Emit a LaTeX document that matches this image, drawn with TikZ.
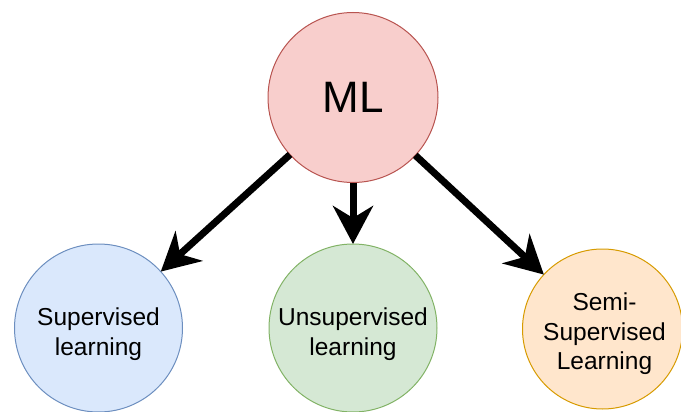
\documentclass[tikz,border=0pt]{standalone}
\usepackage{fontspec}
\setmainfont{Liberation Sans}
\usetikzlibrary{arrows.meta}

\definecolor{redfill}{HTML}{F8CECC}
\definecolor{redline}{HTML}{B85450}
\definecolor{bluefill}{HTML}{DAE8FC}
\definecolor{blueline}{HTML}{6C8EBF}
\definecolor{greenfill}{HTML}{D5E8D4}
\definecolor{greenline}{HTML}{82B366}
\definecolor{orangefill}{HTML}{FFE6CC}
\definecolor{orangeline}{HTML}{D79B00}

\tikzset{
  bubble/.style={circle, inner sep=0pt, outer sep=0pt, line width=1pt},
  caption/.style={inner sep=0pt, align=center,
    font=\fontsize{24.5}{29.5}\selectfont},
  link/.style={line width=7pt,
    -{Stealth[length=38pt, width=40pt, inset=12pt]}},
}

\begin{document}
\begin{tikzpicture}[x=1pt, y=-1pt]
  \useasboundingbox (0,0) rectangle (681,412);

  % root concept
  \node[bubble, minimum size=170pt, fill=redfill, draw=redline,
        font=\fontsize{44}{50}\selectfont] (ml) at (353,97.5) {ML};

  % three learning paradigms
  \node[bubble, minimum size=168pt, fill=bluefill, draw=blueline]
    (sup) at (98.5,328) {};
  \node[bubble, minimum size=168pt, fill=greenfill, draw=greenline]
    (unsup) at (353,328) {};
  \node[bubble, minimum size=160pt, fill=orangefill, draw=orangeline]
    (semi) at (602.5,329) {};

  \node[caption] (suptext) at ([yshift=-6pt]sup.center) {Supervised\\learning};
  \node[caption] (unsuptext) at ([yshift=-6pt]unsup.center) {Unsupervised\\learning};
  \node[caption] (semitext) at ([xshift=2pt, yshift=-5pt]semi.center) {Semi-\\Supervised\\Learning};

  % arrows from the root
  \draw[link] (ml) -- (sup);
  \draw[link] (ml) -- (unsup);
  \draw[link] (ml) -- (semi);
\end{tikzpicture}
\end{document}
